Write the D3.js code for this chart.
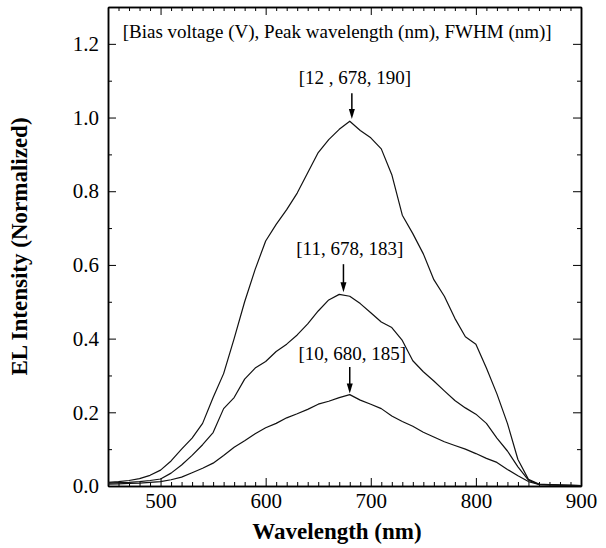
<!DOCTYPE html>
<html>
<head>
<meta charset="UTF-8">
<title>EL spectra</title>
<script src="https://cdn.jsdelivr.net/npm/d3@7/dist/d3.min.js"></script>
<style>
body{margin:0;background:#fff}
text{font-family:"Liberation Serif","Times New Roman",serif;fill:#000}
.axis path,.axis line{stroke:#000}
</style>
</head>
<body>
<div id="root"></div>
<script>
// wavelength grid (nm) and normalized EL intensity
const wavelength = [450,460,470,480,490,500,510,520,530,540,550,560,570,580,590,600,610,620,630,640,650,660,670,680,690,700,710,720,730,740,750,760,770,780,790,800,810,820,830,840,850,860,870,880,890,900]
const v12 = [.010,.012,.015,.020,.029,.043,.068,.100,.130,.170,.240,.305,.400,.500,.588,.665,.710,.750,.795,.850,.905,.940,.968,.990,.965,.945,.915,.845,.735,.685,.630,.560,.515,.455,.405,.385,.320,.250,.170,.072,.018,.005,.004,.003,.002,.001]
const v11 = [.008,.009,.010,.012,.015,.019,.035,.057,.083,.112,.145,.210,.240,.290,.320,.338,.365,.385,.410,.440,.475,.505,.520,.515,.495,.470,.445,.430,.395,.340,.310,.285,.258,.232,.212,.195,.170,.130,.095,.052,.016,.004,.003,.002,.002,.001]
const v10 = [.005,.006,.007,.008,.010,.012,.017,.024,.036,.048,.062,.083,.105,.123,.142,.158,.170,.185,.196,.208,.222,.230,.240,.248,.233,.222,.210,.190,.175,.162,.146,.133,.120,.110,.100,.088,.075,.064,.045,.028,.012,.004,.003,.002,.002,.001]

const xTicks = [500,600,700,800,900]
const xMinor = [450,460,470,480,490,510,520,530,540,550,560,570,580,590,610,620,630,640,650,660,670,680,690,710,720,730,740,750,760,770,780,790,810,820,830,840,850,860,870,880,890]
const yTicks = [0,0.2,0.4,0.6,0.8,1.0,1.2]
const yMinor = [0.1,0.3,0.5,0.7,0.9,1.1]

// [label, label x, label baseline, arrow x, arrow tail, arrow tip]
const notes = [
  ["[12 , 678, 190]", 685, 1.091, 682, 1.066, 0.996],
  ["[11, 678, 183]", 680, 0.627, 674, 0.602, 0.526],
  ["[10, 680, 185]", 682.5, 0.342, 680, 0.323, 0.251]
]
const header = "[Bias voltage (V), Peak wavelength (nm), FWHM (nm)]"

let width = 606, height = 548
let mLeft = 108, mRight = 581, mTop = 7, mBottom = 486

let svg = d3.select("#root").append("svg").attr("width", width).attr("height", height)

let x = d3.scaleLinear().domain([450,900]).range([mLeft,mRight])
let y = d3.scaleLinear().domain([0,1.3]).range([mBottom,mTop])

function axisG(fn, scale, vals, size, tx, ty, labels, pad){
  let ax = fn(scale).tickValues(vals).tickSizeInner(size).tickSizeOuter(0).tickPadding(pad || 0)
  if(labels) ax.tickFormat(labels)
  else ax.tickFormat("")
  let g = svg.append("g").attr("class","axis").attr("transform","translate("+tx+","+ty+")").call(ax)
  g.select(".domain").attr("stroke-width",1.5)
  g.selectAll(".tick line").attr("stroke-width",1)
  g.selectAll("text").attr("font-size",21).attr("font-family","Liberation Serif")
  return g
}

// bottom / top
axisG(d3.axisBottom, x, xTicks, -8, 0, mBottom, d3.format("d"), 7)
axisG(d3.axisBottom, x, xMinor, -4, 0, mBottom)
axisG(d3.axisTop, x, xTicks, -8, 0, mTop)
axisG(d3.axisTop, x, xMinor, -4, 0, mTop)
// left / right
axisG(d3.axisLeft, y, yTicks, -8, mLeft, 0, d3.format(".1f"), 9)
axisG(d3.axisLeft, y, yMinor, -4, mLeft, 0)
axisG(d3.axisRight, y, yTicks, -8, mRight, 0)
axisG(d3.axisRight, y, yMinor, -4, mRight, 0)

let line = d3.line().x((d,i)=>x(wavelength[i])).y(d=>y(d))

svg.selectAll(".curve").data([v12, v11, v10]).enter().append("path")
  .attr("class","curve")
  .attr("d", line)
  .attr("fill","none")
  .attr("stroke","#111")
  .attr("stroke-width",1.2)
  .attr("stroke-linejoin","round")

// annotations
notes.forEach(function(n){
  svg.append("text").attr("x", x(n[1])).attr("y", y(n[2]))
    .attr("text-anchor","middle").attr("font-size",19).text(n[0])
  let ax = x(n[3]), y0 = y(n[4]), y1 = y(n[5])
  svg.append("line").attr("x1",ax).attr("x2",ax).attr("y1",y0).attr("y2",y1-6)
    .attr("stroke","#000").attr("stroke-width",1.5)
  svg.append("path").attr("d","M"+(ax-3)+","+(y1-10)+"L"+(ax+3)+","+(y1-10)+"L"+ax+","+y1+"Z")
    .attr("fill","#000")
})

svg.append("text").attr("x", x(464)).attr("y", y(1.216)).attr("font-size",19).text(header)

svg.append("text").attr("x",337).attr("y",539).attr("text-anchor","middle")
  .attr("font-size",23).attr("font-weight","bold").text("Wavelength (nm)")

svg.append("text").attr("transform","translate(27,"+((mTop+mBottom)/2)+") rotate(-90)")
  .attr("text-anchor","middle").attr("font-size",23).attr("font-weight","bold")
  .text("EL Intensity (Normalized)")
</script>
</body>
</html>
